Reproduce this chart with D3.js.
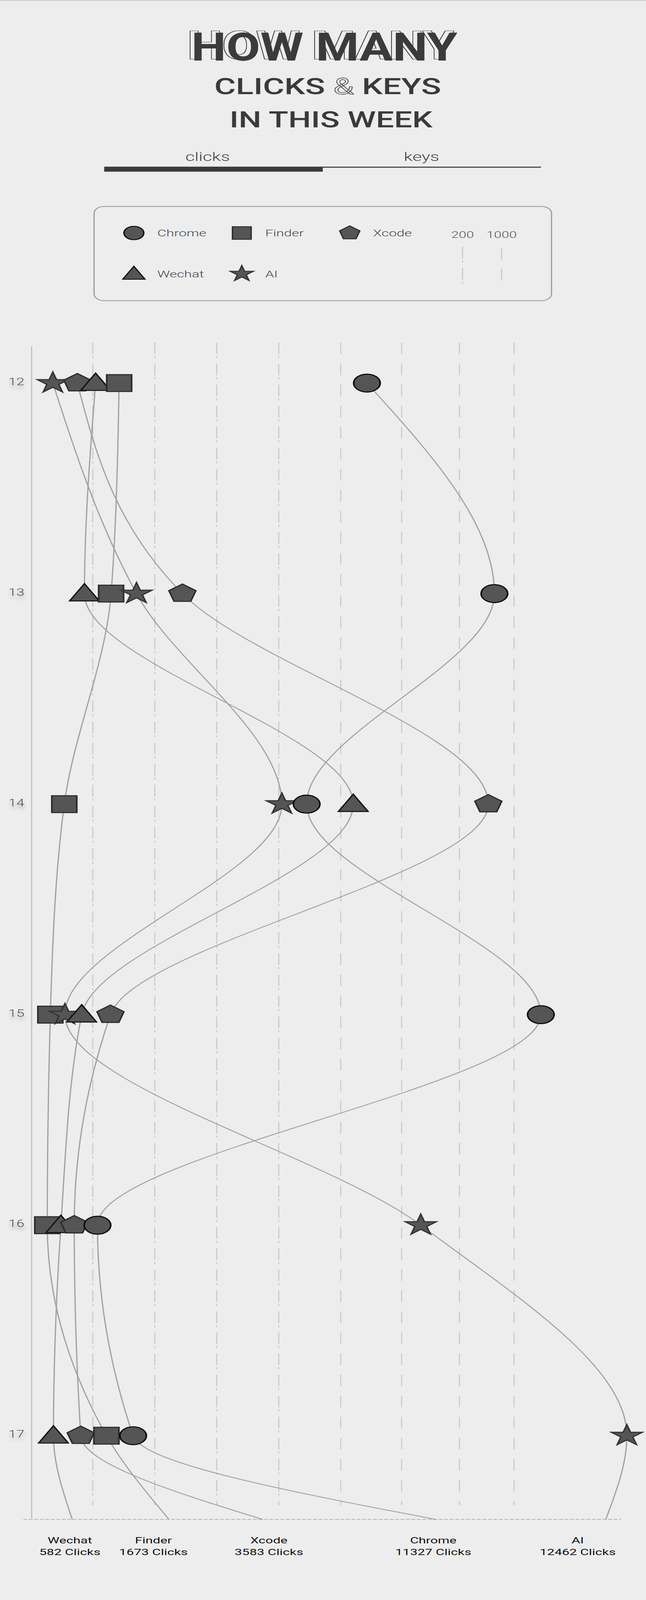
<!DOCTYPE html>
<html><head><meta charset="utf-8">
<script src="https://cdn.jsdelivr.net/npm/d3@7"></script>
<style>
html,body{margin:0;padding:0;background:#ededed;overflow:hidden;}
svg{display:block;font-family:Roboto,"Noto Sans",sans-serif;}
</style>
</head><body>
<svg id="chart"></svg>
<script>
// ---------------- data ----------------
const days = ["12","13","14","15","16","17"];
const apps = ["Chrome","Finder","Xcode","Wechat","AI"];
const chromeClicks = [1430, 3640, 890, 4490, 215, 330];
const finderClicks = [285, 259, 108, 63, 53, 244];
const xcodeClicks  = [150, 489, 3529, 257, 140, 161];
const wechatClicks = [209, 173, 1205, 164, 97, 73];
const aiClicks     = [71, 341, 810, 110, 2331, 6064];
const totalClicks  = [11327, 1673, 3583, 582, 12462]; // same order as apps
const gridTicks    = [200, 400, 600, 800, 1000, 2000, 3000, 4000];
const legendTicks  = [200, 1000];
const tabs         = ["clicks", "keys"];

const seriesValues = [chromeClicks, finderClicks, xcodeClicks, wechatClicks, aiClicks];

// ---------------- layout / style ----------------
const W = 1655, H = 6077;
// the design is 1655 x 6077; fit it into the visible window height
const outH = Math.min(H, window.innerHeight || H);
const svg = d3.select("#chart")
  .attr("width", W).attr("height", outH)
  .attr("viewBox", `0 0 ${W} ${H}`)
  .attr("preserveAspectRatio", "none");
const dark = "#3a3a3a";
const bg = "#ededed";
const markFill = "#555555";

const symbolPentagon = {
  draw(ctx, size) {
    const R = Math.sqrt(size / 2.3776);
    for (let i = 0; i < 5; i++) {
      const a = -Math.PI / 2 + i * 2 * Math.PI / 5;
      const px = R * Math.cos(a), py = R * Math.sin(a);
      if (i === 0) ctx.moveTo(px, py); else ctx.lineTo(px, py);
    }
    ctx.closePath();
  }
};
const shapeOf = {
  Chrome: {type: d3.symbolCircle, size: 3632, stroke: "#0a0a0a", dy: 0},
  Finder: {type: d3.symbolSquare, size: 4096, stroke: "#2a2a2a", dy: 0},
  Xcode:  {type: symbolPentagon,  size: 3150, stroke: "#2a2a2a", dy: 0},
  Wechat: {type: d3.symbolTriangle, size: 2500, stroke: "#141414", dy: 6},
  AI:     {type: d3.symbolStar,   size: 1980, stroke: "#333333", dy: 0}
};

// scales
const x = d3.scaleLinear().domain([0, 1000, 2000, 3000, 4000]).range([79, 873, 1029, 1177, 1317]);
const y = d3.scalePoint().domain(days).range([1455, 5453]);
const sortedTotals = totalClicks.slice().sort(d3.ascending);
const xTotal = d3.scaleLinear().domain(sortedTotals).range([185, 433, 673, 1117, 1552]);
const xTotalLabel = d3.scaleLinear().domain(sortedTotals).range([179, 393, 689, 1110, 1480]);
const yBottom = 5771;

// defs
const defs = svg.append("defs");
const f = defs.append("filter").attr("id", "lblShadow")
  .attr("x", "-60%").attr("y", "-60%").attr("width", "220%").attr("height", "260%");
f.append("feGaussianBlur").attr("in", "SourceAlpha").attr("stdDeviation", 6).attr("result", "b");
f.append("feOffset").attr("in", "b").attr("dy", 12).attr("result", "o");
f.append("feComponentTransfer").attr("in", "o").attr("result", "t")
  .append("feFuncA").attr("type", "linear").attr("slope", 0.35);
const fm = f.append("feMerge");
fm.append("feMergeNode").attr("in", "t");
fm.append("feMergeNode").attr("in", "SourceGraphic");

// outlined echo behind the big title
const fo = defs.append("filter").attr("id", "echo")
  .attr("x", "-10%").attr("y", "-20%").attr("width", "120%").attr("height", "140%");
fo.append("feOffset").attr("in", "SourceAlpha").attr("dx", -10).attr("dy", -6).attr("result", "off");
fo.append("feMorphology").attr("in", "off").attr("operator", "dilate").attr("radius", 2.2).attr("result", "dil");
fo.append("feFlood").attr("flood-color", dark).attr("result", "dk");
fo.append("feComposite").attr("in", "dk").attr("in2", "dil").attr("operator", "in").attr("result", "ring");
fo.append("feFlood").attr("flood-color", bg).attr("result", "bgc");
fo.append("feComposite").attr("in", "bgc").attr("in2", "off").attr("operator", "in").attr("result", "inner");
const fom = fo.append("feMerge");
fom.append("feMergeNode").attr("in", "ring");
fom.append("feMergeNode").attr("in", "inner");
fom.append("feMergeNode").attr("in", "SourceGraphic");

// background
svg.append("rect").attr("width", W).attr("height", H).attr("fill", bg);
svg.append("line").attr("x1", 0).attr("x2", W).attr("y1", 1.5).attr("y2", 1.5)
  .attr("stroke", "#c8c8c8").attr("stroke-width", 3);

// ---------------- title ----------------
const fam = "Roboto, 'Noto Sans', sans-serif";
svg.append("text").attr("x", 490).attr("y", 230)
  .attr("font-family", fam).attr("font-weight", 700).attr("font-size", 150)
  .attr("textLength", 682).attr("lengthAdjust", "spacingAndGlyphs")
  .attr("fill", dark).attr("filter", "url(#echo)")
  .text("HOW MANY");

const t2 = svg.append("text").attr("x", 549).attr("y", 357)
  .attr("font-family", fam).attr("font-weight", 500).attr("font-size", 84)
  .attr("textLength", 581).attr("lengthAdjust", "spacingAndGlyphs")
  .attr("fill", dark);
t2.append("tspan").text("CLICKS ");
t2.append("tspan").attr("fill", bg).attr("stroke", dark).attr("stroke-width", 2).attr("font-weight", 400).text("&");
t2.append("tspan").text(" KEYS");

svg.append("text").attr("x", 588).attr("y", 483)
  .attr("font-family", fam).attr("font-weight", 500).attr("font-size", 86)
  .attr("textLength", 520).attr("lengthAdjust", "spacingAndGlyphs")
  .attr("fill", dark).text("IN THIS WEEK");

// tabs
const tabX = d3.scalePoint().domain(tabs).range([532, 1080]);
svg.selectAll("text.tab").data(tabs).join("text").attr("class", "tab")
  .attr("x", d => tabX(d)).attr("y", 612).attr("text-anchor", "middle")
  .attr("font-family", fam).attr("font-weight", 300).attr("font-size", 46)
  .attr("fill", "#444").text(d => d);
svg.append("rect").attr("x", 827).attr("y", 633).attr("width", 559).attr("height", 4).attr("fill", dark);
svg.append("rect").attr("x", 267).attr("y", 633).attr("width", 560).attr("height", 19).attr("fill", dark);

// ---------------- legend ----------------
svg.append("rect").attr("x", 241).attr("y", 784).attr("width", 1172).attr("height", 358)
  .attr("rx", 26).attr("fill", "none").attr("stroke", "#9a9a9a").attr("stroke-width", 3);
const legScale = 0.56;
const legItems = apps.map((a, i) => ({app: a, col: i % 3, row: Math.floor(i / 3)}));
const legX = d3.scaleLinear().domain([0, 2]).range([343, 908]);
const legY = d3.scaleLinear().domain([0, 1]).range([885, 1040]);
const lg = svg.selectAll("g.leg").data(legItems).join("g").attr("class", "leg")
  .attr("transform", d => `translate(${legX(d.col) - d.col * 6},${legY(d.row)})`);
lg.append("path")
  .attr("d", d => d3.symbol().type(shapeOf[d.app].type).size(shapeOf[d.app].size * legScale)())
  .attr("transform", d => `translate(0,${shapeOf[d.app].dy * 0.7})`)
  .attr("fill", markFill).attr("stroke", d => shapeOf[d.app].stroke).attr("stroke-width", 3.5);
lg.append("text").attr("x", 60).attr("y", 13)
  .attr("font-family", fam).attr("font-weight", 300).attr("font-size", 36)
  .attr("fill", "#444").text(d => d.app);

const legLineX = d3.scalePoint().domain(legendTicks).range([1185, 1285]);
const dashFor = v => v < 1000 ? "44,8,8,20" : "44,36";
svg.selectAll("text.legtick").data(legendTicks).join("text").attr("class", "legtick")
  .attr("x", d => legLineX(d)).attr("y", 903).attr("text-anchor", "middle")
  .attr("font-family", fam).attr("font-weight", 300).attr("font-size", 35)
  .attr("fill", "#555").text(d => d);
svg.selectAll("line.legtick").data(legendTicks).join("line").attr("class", "legtick")
  .attr("x1", d => legLineX(d)).attr("x2", d => legLineX(d))
  .attr("y1", d => d < 1000 ? 937 : 941).attr("y2", 1077)
  .attr("stroke", "#c4c4c4").attr("stroke-width", 2.5)
  .attr("stroke-dasharray", d => dashFor(d));

// ---------------- grid & axes ----------------
svg.selectAll("line.grid").data(gridTicks).join("line").attr("class", "grid")
  .attr("x1", d => x(d)).attr("x2", d => x(d))
  .attr("y1", 1301).attr("y2", 5717)
  .attr("stroke", "#c6c6c6").attr("stroke-width", 2.5)
  .attr("stroke-dasharray", d => dashFor(d));

svg.append("line").attr("x1", 81).attr("x2", 81).attr("y1", 1315).attr("y2", 5767)
  .attr("stroke", "#c0c0c0").attr("stroke-width", 3);
svg.append("line").attr("x1", 60).attr("x2", 1591).attr("y1", yBottom).attr("y2", yBottom)
  .attr("stroke", "#bdbdbd").attr("stroke-width", 4).attr("stroke-dasharray", "10,4");

// y labels
svg.selectAll("text.day").data(days).join("text").attr("class", "day")
  .attr("x", 42).attr("y", d => y(d)).attr("dy", "0.2em").attr("text-anchor", "middle")
  .attr("font-family", fam).attr("font-weight", 300).attr("font-size", 37)
  .attr("fill", "#4a4a4a").attr("filter", "url(#lblShadow)").text(d => d);

// ---------------- curves ----------------
const line = d3.line().x(p => p[0]).y(p => p[1]).curve(d3.curveMonotoneY);
const series = apps.map((a, i) => ({
  app: a,
  values: seriesValues[i],
  total: totalClicks[i]
}));
svg.selectAll("path.curve").data(series).join("path").attr("class", "curve")
  .attr("d", s => line(s.values.map((v, j) => [x(v), y(days[j])]).concat([[xTotal(s.total), yBottom]])))
  .attr("fill", "none").attr("stroke", "#a2a2a2").attr("stroke-width", 3.2);

// ---------------- markers ----------------
const marks = [];
series.forEach(s => s.values.forEach((v, j) => marks.push({app: s.app, day: days[j], v})));
marks.sort((a, b) => a.v - b.v);
svg.selectAll("path.mark").data(marks).join("path").attr("class", "mark")
  .attr("transform", d => `translate(${x(d.v)},${y(d.day) + shapeOf[d.app].dy})`)
  .attr("d", d => d3.symbol().type(shapeOf[d.app].type).size(shapeOf[d.app].size)())
  .attr("fill", markFill).attr("stroke", d => shapeOf[d.app].stroke).attr("stroke-width", 4)
  .attr("stroke-linejoin", "miter");

// ---------------- bottom labels ----------------
const bl = svg.selectAll("g.bottom").data(series).join("g").attr("class", "bottom")
  .attr("transform", s => `translate(${xTotalLabel(s.total)},0)`);
bl.append("text").attr("y", 5862).attr("text-anchor", "middle")
  .attr("font-family", fam).attr("font-size", 34).attr("fill", "#111").text(s => s.app);
bl.append("text").attr("y", 5906).attr("text-anchor", "middle")
  .attr("font-family", fam).attr("font-size", 34).attr("fill", "#111").text(s => `${s.total} Clicks`);
</script>
</body></html>
